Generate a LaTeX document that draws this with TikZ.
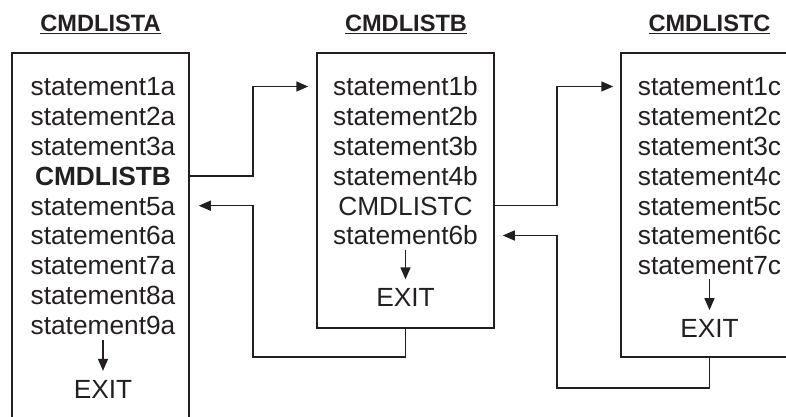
\documentclass[tikz,border=0pt]{standalone}
\usepackage{fontspec}
\setmainfont{Liberation Sans}
\usetikzlibrary{arrows.meta}
\definecolor{ink}{RGB}{35,31,32}

\begin{document}
\begin{tikzpicture}[x=1pt,y=-1pt,line width=1.5pt,draw=ink,text=ink,
  >={Triangle[length=12pt,width=10pt]},
  txt/.style={inner sep=0pt,text height=18.8pt,text depth=0pt,font=\fontsize{26.3}{30}\selectfont},
  ttl/.style={inner sep=0pt,anchor=base,font=\fontsize{23.6}{28}\selectfont\bfseries},
  box/.style={draw,minimum width=177pt,inner sep=0pt}]
\useasboundingbox (0,0) rectangle (786,417);
\clip (0,0) rectangle (786,417);
\node[ttl] (ta) at (100.5,32) {\underline{CMDLISTA}};
\node[ttl] (tb) at (406,32)   {\underline{CMDLISTB}};
\node[ttl] (tc) at (709.5,32) {\underline{CMDLISTC}};
\node[box,minimum height=387pt] (A) at (100.5,246.5) {};
\node[box,minimum height=275pt] (B) at (405.5,190.5) {};
\node[box,minimum height=304pt] (C) at (709.5,205)   {};
\node[txt] (a1) at (103,86.5)  {statement1a};
\node[txt] (a2) at (103,116.3) {statement2a};
\node[txt] (a3) at (103,146.1) {statement3a};
\node[txt,font=\fontsize{26.3}{30}\selectfont\bfseries] (a4) at (103,175.9) {CMDLISTB};
\node[txt] (a5) at (103,205.7) {statement5a};
\node[txt] (a6) at (103,235.5) {statement6a};
\node[txt] (a7) at (103,265.3) {statement7a};
\node[txt] (a8) at (103,295.1) {statement8a};
\node[txt] (a9) at (103,324.9) {statement9a};
\node[txt] (ea) at (103,389)   {EXIT};
\node[txt] (b1) at (405.5,86.5)  {statement1b};
\node[txt] (b2) at (405.5,116.3) {statement2b};
\node[txt] (b3) at (405.5,146.1) {statement3b};
\node[txt] (b4) at (405.5,175.9) {statement4b};
\node[txt] (b5) at (405.5,205.7) {CMDLISTC};
\node[txt] (b6) at (405.5,235.5) {statement6b};
\node[txt] (eb) at (405.5,297.5) {EXIT};
\node[txt] (c1) at (709.5,86.5)  {statement1c};
\node[txt] (c2) at (709.5,116.3) {statement2c};
\node[txt] (c3) at (709.5,146.1) {statement3c};
\node[txt] (c4) at (709.5,175.9) {statement4c};
\node[txt] (c5) at (709.5,205.7) {statement5c};
\node[txt] (c6) at (709.5,235.5) {statement6c};
\node[txt] (c7) at (709.5,265.3) {statement7c};
\node[txt] (ec) at (709.5,328.3) {EXIT};
\coordinate (jab) at (253,357);
\coordinate (jbc) at (557,388);
\draw[->,shorten <=5pt,shorten >=8pt] (a9) -- (ea);
\draw[->,shorten <=4pt,shorten >=8pt] (b6) -- (eb);
\draw[->,shorten <=4pt,shorten >=8pt] (c7) -- (ec);
\draw[->] (A.east |- a4) -| (jab |- b1) -- ([xshift=-8pt]B.west |- b1);
\draw[->] (B.south) |- (jab) |- ([xshift=9pt]A.east |- a5);
\draw[->] (B.east |- b5) -| (jbc |- c1) -- ([xshift=-7pt]C.west |- c1);
\draw[->] (C.south) |- (jbc) |- ([xshift=8pt]B.east |- b6);
\end{tikzpicture}
\end{document}
